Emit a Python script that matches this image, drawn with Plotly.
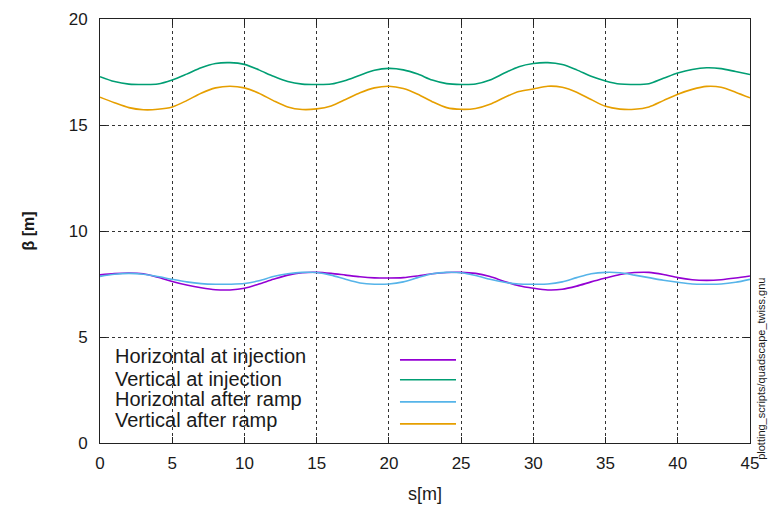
import plotly.graph_objects as go

s = list(range(0, 46))

beta_h_inj = [7.93, 7.99, 8.02, 7.98, 7.82, 7.62, 7.45, 7.32, 7.23, 7.22,
              7.30, 7.50, 7.72, 7.92, 8.03, 8.05, 8.00, 7.92, 7.84, 7.79,
              7.78, 7.80, 7.88, 7.98, 8.04, 8.05, 8.00, 7.85, 7.62, 7.42,
              7.30, 7.22, 7.25, 7.40, 7.60, 7.78, 7.95, 8.04, 8.05, 7.95,
              7.80, 7.70, 7.67, 7.70, 7.78, 7.88]

beta_v_inj = [17.28, 17.05, 16.93, 16.91, 16.93, 17.12, 17.40, 17.70, 17.90, 17.94,
              17.86, 17.60, 17.30, 17.05, 16.93, 16.91, 16.93, 17.10, 17.35, 17.58,
              17.67, 17.60, 17.40, 17.12, 16.95, 16.91, 16.93, 17.12, 17.45, 17.75,
              17.90, 17.94, 17.85, 17.60, 17.30, 17.08, 16.93, 16.91, 16.95, 17.20,
              17.45, 17.62, 17.70, 17.66, 17.52, 17.38]

beta_h_ramp = [7.86, 7.96, 8.00, 7.96, 7.85, 7.72, 7.60, 7.52, 7.49, 7.49,
               7.52, 7.65, 7.85, 7.98, 8.05, 8.04, 7.92, 7.72, 7.55, 7.49,
               7.50, 7.60, 7.80, 7.98, 8.05, 8.03, 7.90, 7.72, 7.58, 7.50,
               7.49, 7.50, 7.60, 7.80, 7.98, 8.05, 8.03, 7.92, 7.80, 7.68,
               7.58, 7.50, 7.49, 7.50, 7.58, 7.72]

beta_v_ramp = [16.31, 16.05, 15.82, 15.72, 15.74, 15.85, 16.15, 16.50, 16.75, 16.83,
               16.75, 16.50, 16.15, 15.85, 15.73, 15.76, 15.90, 16.20, 16.52, 16.75,
               16.83, 16.72, 16.45, 16.10, 15.82, 15.74, 15.78, 15.98, 16.30, 16.58,
               16.70, 16.83, 16.78, 16.55, 16.20, 15.88, 15.75, 15.74, 15.85, 16.15,
               16.45, 16.68, 16.82, 16.78, 16.55, 16.28]

names = ["Horizontal at injection", "Vertical at injection",
         "Horizontal after ramp", "Vertical after ramp"]
colors = ["#9400d3", "#009e73", "#56b4e9", "#e69f00"]
series = [beta_h_inj, beta_v_inj, beta_h_ramp, beta_v_ramp]

x_ticks = list(range(0, 46, 5))
y_ticks = list(range(0, 21, 5))

FONT = "Liberation Sans, Arial, sans-serif"
TXT = "#1a1a1a"

fig = go.Figure()
for name, col, ys in zip(names, colors, series):
    fig.add_trace(go.Scatter(x=s, y=ys, mode="lines", name=name,
                             line=dict(color=col, width=1.6, shape="spline", smoothing=0.8),
                             showlegend=False))

# gnuplot-style key: text on the left, line sample on the right, opaque box
fig.add_shape(type="rect", xref="paper", yref="paper", x0=0.002, x1=0.6, y0=0.024, y1=0.241,
              fillcolor="white", line=dict(width=0), layer="between")
text_y = [0.206, 0.152, 0.104, 0.054]
line_y = [0.196, 0.149, 0.097, 0.045]
for name, col, ty, ly in zip(names, colors, text_y, line_y):
    fig.add_annotation(x=0.02, y=ty, xref="paper", yref="paper", text=name,
                       showarrow=False, xanchor="left", yanchor="middle",
                       font=dict(family=FONT, size=20, color=TXT))
    fig.add_shape(type="line", xref="paper", yref="paper", x0=0.4615, x1=0.5477,
                  y0=ly, y1=ly, line=dict(color=col, width=1.6))

fig.add_annotation(x=1.017, y=0.175, xref="paper", yref="paper",
                   text="plotting_scripts/quadscape_twiss.gnu", textangle=-90,
                   showarrow=False, xanchor="center", yanchor="middle",
                   font=dict(family=FONT, size=11, color=TXT))

axis_common = dict(showline=True, linecolor="#222", linewidth=1, mirror="ticks",
                   ticks="inside", ticklen=6, tickcolor="#222", automargin=False,
                   showgrid=True, gridcolor="#333", gridwidth=1, griddash="dot",
                   zeroline=False, tickfont=dict(family=FONT, size=17, color=TXT))

fig.update_xaxes(range=[0, 45], tickvals=x_ticks, ticktext=[str(v) for v in x_ticks],
                 ticklabelstandoff=5,
                 title=dict(text="s[m]", font=dict(family=FONT, size=18, color=TXT), standoff=14),
                 **axis_common)
fig.update_yaxes(range=[0, 20], tickvals=y_ticks, ticktext=[str(v) for v in y_ticks],
                 ticklabelstandoff=8,
                 title=dict(text="<b>β [m]</b>", font=dict(family=FONT, size=16, color=TXT), standoff=30),
                 **axis_common)

fig.update_layout(width=769, height=507, margin=dict(l=100, r=19, t=19, b=64, autoexpand=False),
                  paper_bgcolor="white", plot_bgcolor="white")

fig.write_html("out.html")
